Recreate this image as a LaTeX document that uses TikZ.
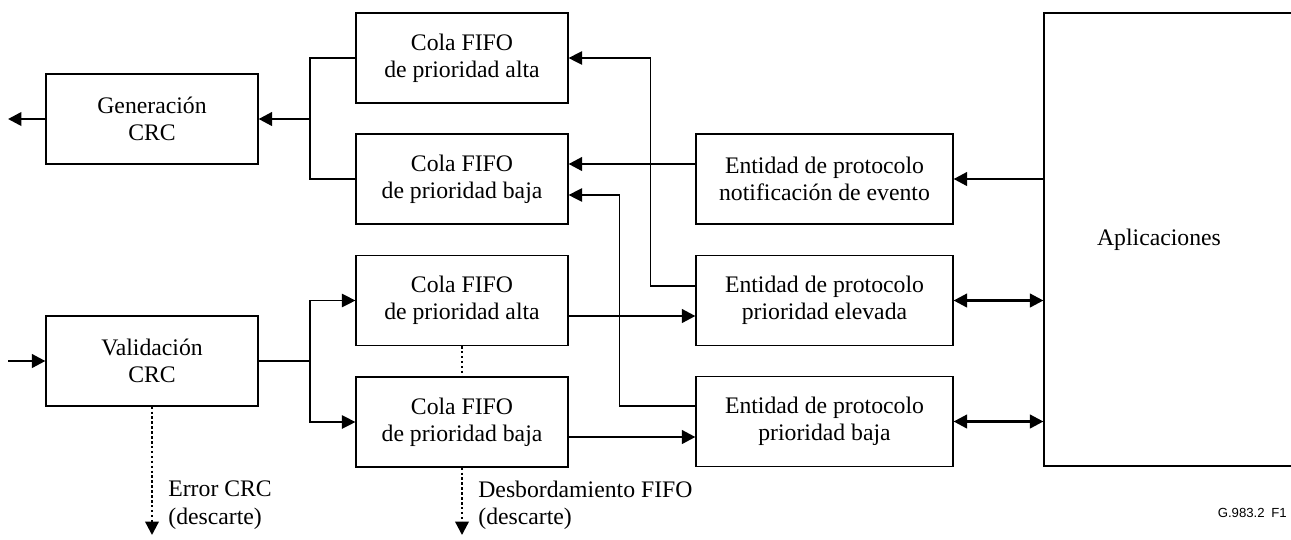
\documentclass[tikz,border=0pt]{standalone}
\usepackage{fontspec}
\setmainfont{Liberation Serif}
\newfontfamily\figfont{Liberation Sans}
\usepackage{tikz}
\usetikzlibrary{calc,shapes,positioning}
\usetikzlibrary{arrows.meta}
\tikzset{>={Triangle[width=2.7mm,length=2.7mm]}}

\begin{document}
\begin{tikzpicture}[x=0.02cm,y=-0.02cm]
    \tikzstyle{bnode} = [draw=black, line width=0.7pt, rectangle, align=center, minimum width=4.24cm, minimum height=1.8cm, inner sep=0pt, font=\fontsize{13.5}{15.6}\selectfont]
    \tikzstyle{pnode} = [bnode, minimum width=5.14cm]
    \tikzstyle{tnode} = [align=left, inner sep=0pt, anchor=west, font=\fontsize{13.5}{15.6}\selectfont]
    \tikzstyle{fline} = [line width=1.5pt]
    \tikzstyle{tline} = [line width=0.7pt]
    \tikzstyle{dline} = [line width=1.3pt, dash pattern=on 1.4pt off 1.4pt]
    \useasboundingbox (0,0) rectangle (1291,539);

    \node[bnode] (gen) at (152,119) {Generación\\CRC};
    \node[bnode] (val) at (152,361) {Validación\\CRC};

    \node[bnode] (fa1) at (462,58) {Cola FIFO\\de prioridad alta};
    \node[bnode] (fb1) at (462,179) {Cola FIFO\\de prioridad baja};
    \node[bnode] (fa2) at (462,300.5) {Cola FIFO\\de prioridad alta};
    \node[bnode] (fb2) at (462,422) {Cola FIFO\\de prioridad baja};

    \node[pnode] (en) at (824.5,179) {Entidad de protocolo\\notificación de evento};
    \node[pnode] (ee) at (824.5,300.5) {Entidad de protocolo\\prioridad elevada};
    \node[pnode] (eb) at (824.5,421.5) {Entidad de protocolo\\prioridad baja};

    % la caja de aplicaciones sigue fuera del borde derecho
    \node[bnode, minimum width=6cm, minimum height=9.06cm] (apl) at (1194,239.5) {};
    \node[font=\fontsize{13.5}{15.6}\selectfont] (apltxt) at (1159,240) {Aplicaciones};

    \coordinate (outg) at (8,119);
    \coordinate (inv) at (8,361);
    \coordinate (br1) at (310,119);
    \coordinate (br2) at (310,361);
    \coordinate (err) at (152,535);
    \coordinate (ovf) at (462,535);

    \draw[fline,->] (gen) -- (outg);
    \draw[tline] (fa1.west) -| (br1) |- (fb1.west);
    \draw[fline,->] (br1) -- (gen);

    \draw[fline,->] (inv) -- (val);
    \draw[fline] (val) -- (br2);
    \draw[tline,->] (br2) |- (fa2);
    \draw[tline,->] (br2) |- (fb2);

    \draw[tline,->] ([yshift=0.29cm]ee.west) -- ++(-45,0) |- (fa1.east);
    \draw[tline,->] ([yshift=0.31cm]eb.west) -- ++(-76,0) |- ([yshift=-0.32cm]fb1.east);
    \draw[fline,->] ([yshift=0.3cm]en.west) -- ([yshift=0.3cm]fb1.east);
    \draw[fline,->] ([yshift=-0.31cm]fa2.east) -- ([yshift=-0.31cm]ee.west);
    \draw[fline,->] ([yshift=-0.3cm]fb2.east) -- ([yshift=-0.3cm]fb2.east -| eb.west);

    \draw[fline,->] (apl.west |- en) -- (en);
    \draw[fline,<->] (ee) -- (apl.west |- ee);
    \draw[fline,<->] (eb) -- (apl.west |- eb);

    \draw[dline] (fa2) -- (fb2);
    \draw[dline,->] (val) -- (err);
    \draw[dline,->] (fb2) -- (ovf);

    \node[tnode] (errtxt) at (168,505) {Error CRC\\(descarte)};
    \node[tnode] (ovftxt) at (478,505) {Desbordamiento FIFO\\(descarte)};
    \node[anchor=east, inner sep=0pt, font=\figfont\fontsize{7.5}{9}\selectfont] (fig) at (1287,513) {G.983.2\hspace{0.5em}F1};
\end{tikzpicture}
\end{document}
